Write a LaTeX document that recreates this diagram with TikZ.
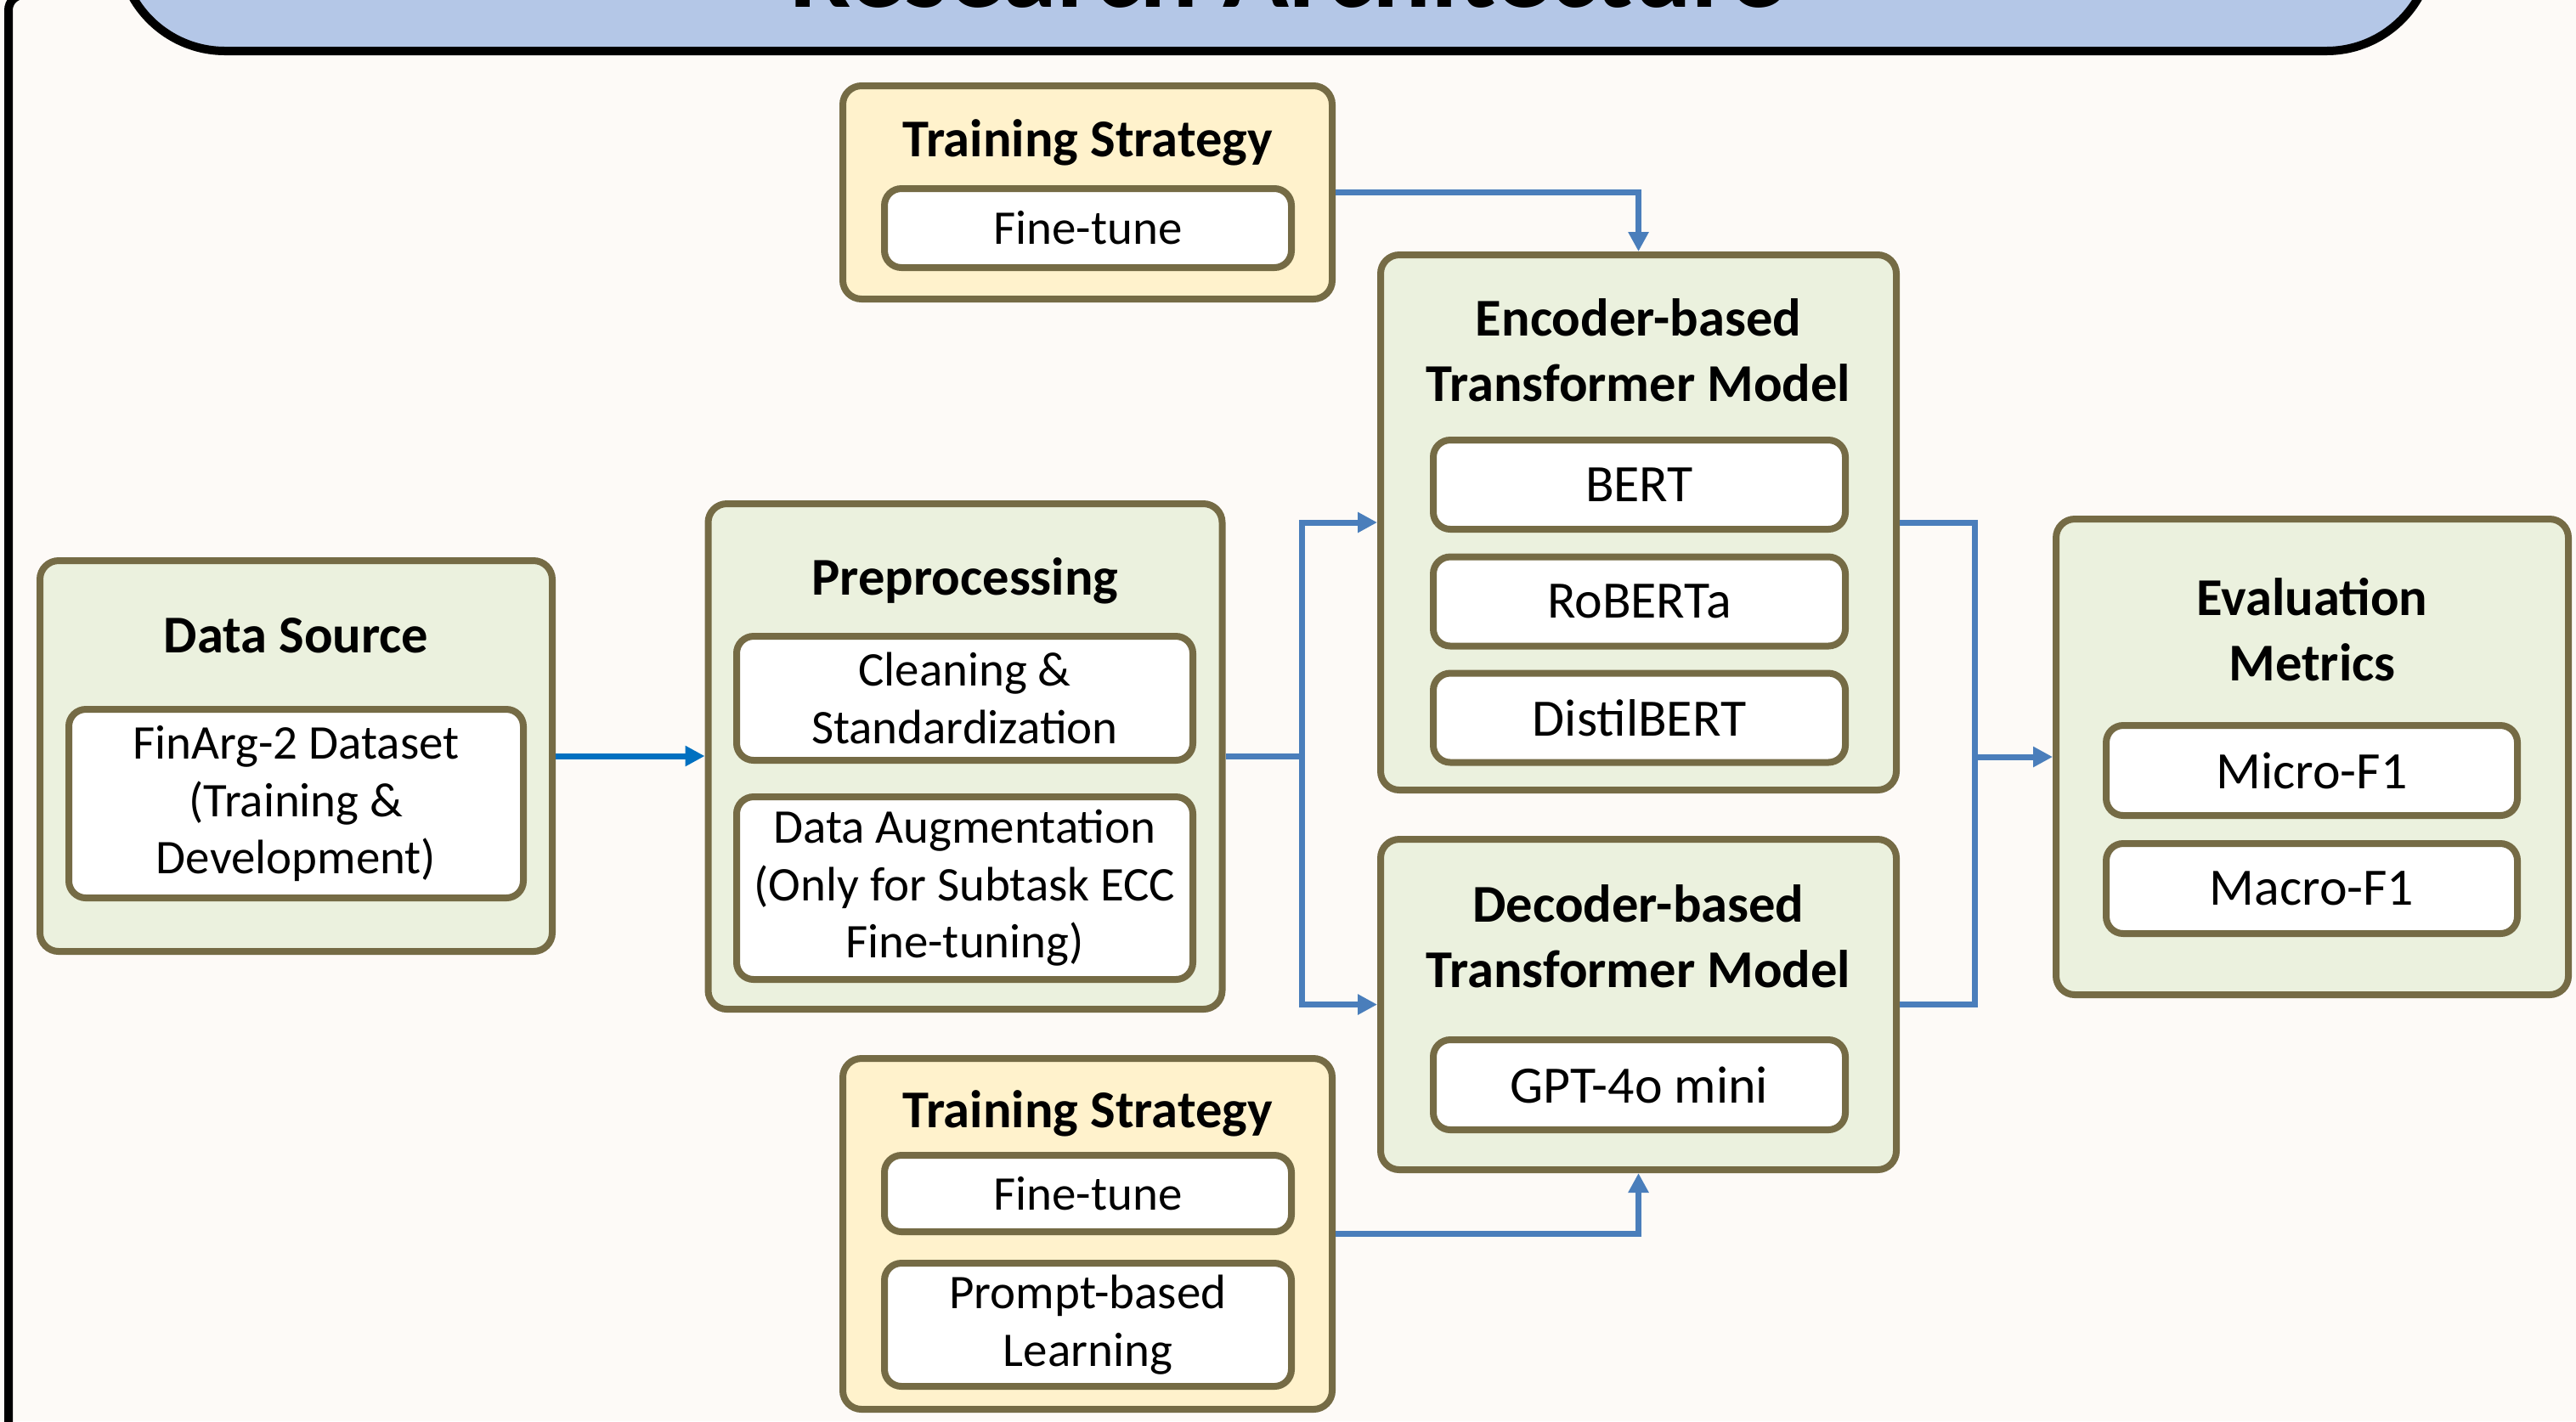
\documentclass[tikz,border=0pt]{standalone}
\usepackage{fontspec}
\setmainfont{Carlito}
\usetikzlibrary{arrows.meta}
\definecolor{paper}{HTML}{FDFAF7}
\definecolor{boxedge}{HTML}{756B45}
\definecolor{groupfill}{HTML}{EBF1DE}
\definecolor{stratfill}{HTML}{FFF2CC}
\definecolor{titlefill}{HTML}{B4C7E7}
\definecolor{linkblue}{HTML}{4A7EBB}
\definecolor{datablue}{HTML}{0070C0}
\newcommand{\headfont}{\fontsize{17.8}{21.9}\selectfont\bfseries}
\newcommand{\itemfont}{\fontsize{17.6}{20}\selectfont}
\newcommand{\smallitemfont}{\fontsize{16.2}{19.2}\selectfont}

\begin{document}
\begin{tikzpicture}[
 group/.style ={draw=boxedge, line width=0.08cm, rounded corners=0.22cm, fill=groupfill, inner sep=0pt},
 strategy/.style ={group, fill=stratfill},
 item/.style ={draw=boxedge, line width=0.08cm, rounded corners=0.2cm, fill=white, inner sep=0pt, align=center, font=\itemfont},
 smallitem/.style ={item, font=\smallitemfont},
 head/.style ={align=center, font=\headfont, inner sep=0pt},
 link/.style ={draw=linkblue, line width=0.07cm, -{Triangle[length=0.23cm,width=0.23cm]}}
 ]
%draw page
\clip (0,0) rectangle (30.32,-16.73);
\fill[paper] (0,0) rectangle (30.32,-16.73);
\draw[line width=0.1cm, rounded corners=0.18cm] (0.10,0.06) rectangle (31,-17.5);
%draw title banner
\draw[line width=0.1cm, rounded corners=1.25cm, fill=titlefill] (1.40,2.0) rectangle (28.63,-0.60);
\node[font=\fontsize{36.6}{40}\selectfont\bfseries, anchor=base, inner sep=0pt] (title) at (15.15,-0.08) {Research Architecture};
%draw data source
\node[group, minimum width=6.03cm, minimum height=4.60cm] (src) at (3.485,-8.90) {};
\node[head] (srchead) at (3.485,-7.48) {Data Source};
\node[smallitem, minimum width=5.35cm, minimum height=2.22cm] (finarg) at (3.485,-9.46) {FinArg-2 Dataset\\(Training \&\\Development)};
%draw preprocessing
\node[group, minimum width=6.05cm, minimum height=5.95cm] (prep) at (11.36,-8.905) {};
\node[head] (prephead) at (11.36,-6.84) {Preprocessing};
\node[smallitem, minimum width=5.37cm, minimum height=1.46cm] (clean) at (11.355,-8.22) {Cleaning \&\\Standardization};
\node[smallitem, minimum width=5.37cm, minimum height=2.15cm] (augment) at (11.355,-10.455) {Data Augmentation\\(Only for Subtask ECC\\Fine-tuning)};
%draw training strategy 1
\node[strategy, minimum width=5.76cm, minimum height=2.51cm] (train1) at (12.80,-2.265) {};
\node[head] (train1head) at (12.80,-1.68) {Training Strategy};
\node[smallitem, minimum width=4.79cm, minimum height=0.93cm] (tune1) at (12.805,-2.685) {Fine-tune};
%draw training strategy 2
\node[strategy, minimum width=5.76cm, minimum height=4.13cm] (train2) at (12.80,-14.525) {};
\node[head] (train2head) at (12.80,-13.11) {Training Strategy};
\node[smallitem, minimum width=4.79cm, minimum height=0.90cm] (tune2) at (12.805,-14.05) {Fine-tune};
\node[smallitem, minimum width=4.79cm, minimum height=1.45cm] (prompt) at (12.805,-15.595) {Prompt-based\\Learning};
%draw encoder model
\node[group, minimum width=6.07cm, minimum height=6.30cm] (enc) at (19.285,-6.15) {};
\node[head] (enchead) at (19.285,-4.12) {Encoder-based\\Transformer Model};
\node[item, minimum width=4.85cm, minimum height=1.05cm] (bert) at (19.295,-5.705) {BERT};
\node[item, minimum width=4.85cm, minimum height=1.05cm] (roberta) at (19.295,-7.08) {RoBERTa};
\node[item, minimum width=4.85cm, minimum height=1.05cm] (distil) at (19.295,-8.45) {DistilBERT};
%draw decoder model
\node[group, minimum width=6.07cm, minimum height=3.89cm] (dec) at (19.285,-11.825) {};
\node[head] (dechead) at (19.285,-11.02) {Decoder-based\\Transformer Model};
\node[item, minimum width=4.85cm, minimum height=1.06cm] (gpt) at (19.295,-12.77) {GPT-4o mini};
%draw evaluation
\node[group, minimum width=6.03cm, minimum height=5.60cm] (eval) at (27.215,-8.91) {};
\node[head] (evalhead) at (27.215,-7.41) {Evaluation\\Metrics};
\node[item, minimum width=4.84cm, minimum height=1.06cm] (micro) at (27.21,-9.07) {Micro-F1};
\node[item, minimum width=4.84cm, minimum height=1.06cm] (macro) at (27.21,-10.46) {Macro-F1};
%draw links
\draw[link, draw=datablue] (src.east) -- (src.east -| prep.west);
\draw[link] (train1.east) -| (enc.north);
\draw[link] (train2.east) -| (dec.south);
\coordinate (fork) at (15.32,-8.905);
\draw[link, -] (prep.east) -- (fork);
\draw[link] (fork) |- (enc.west);
\draw[link] (fork) |- (dec.west);
\coordinate (merge) at (23.24,-8.91);
\draw[link, -] (enc.east) -| (merge) |- (dec.east);
\draw[link] (merge) -- (eval.west);
\end{tikzpicture}
\end{document}
